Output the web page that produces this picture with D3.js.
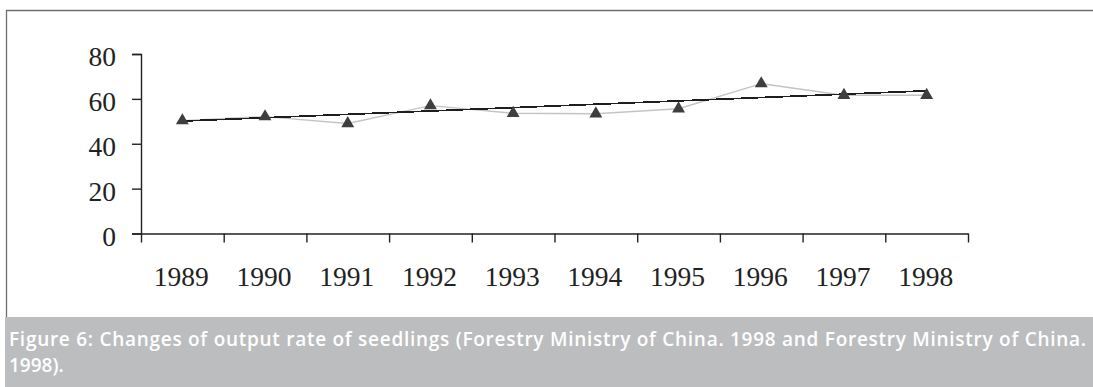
<!DOCTYPE html>
<html>
<head>
<meta charset="utf-8">
<script src="https://cdn.jsdelivr.net/npm/d3@7"></script>
<style>
  html, body { margin: 0; padding: 0; background: #fff; }
  svg { display: block; }
</style>
</head>
<body>
<script>
// Output rate of seedlings by year
const years = ["1989", "1990", "1991", "1992", "1993", "1994", "1995", "1996", "1997", "1998"];
const outputRate = [50.3, 52.1, 49.0, 57.0, 53.6, 53.4, 55.6, 66.8, 61.6, 61.6];
// linear trend, value at the first and last year
const trendYears = ["1989", "1998"];
const trendValues = [50.1, 63.6];
const yTicks = [0, 20, 40, 60, 80];
const captionLines = [
  "Figure 6: Changes of output rate of seedlings (Forestry Ministry of China. 1998 and Forestry Ministry of China.",
  "1998)."
];

const W = 1093, H = 387;
const svg = d3.select("body").append("svg").attr("width", W).attr("height", H);

// panel frame (top and left rules)
svg.append("path")
  .attr("d", "M6.5,317 V10.5 H1093")
  .attr("fill", "none").attr("stroke", "#6e6e6e").attr("stroke-width", 1.3);

// caption band
svg.append("rect").attr("x", 5).attr("y", 317).attr("width", W - 5).attr("height", 70)
  .attr("fill", "#bcbdbf");
const cap = svg.append("g")
  .attr("font-family", "'Open Sans', Lato, sans-serif")
  .attr("font-weight", 600).attr("font-size", 19).attr("fill", "#fff");
cap.append("text").attr("x", 9).attr("y", 346).attr("textLength", 1077)
  .attr("lengthAdjust", "spacing").text(captionLines[0]);
cap.append("text").attr("x", 9).attr("y", 372).text(captionLines[1]);

// scales
const x = d3.scaleBand().domain(years).range([141, 968]).padding(0);
const y = d3.scaleLinear().domain([0, 80]).range([233.5, 54]);
const edge = d3.scaleLinear().domain([0, years.length]).range([141, 968]);

const axisColor = "#222";
const font = "'Liberation Serif', 'Times New Roman', serif";

// y axis
const gy = svg.append("g").attr("transform", "translate(141,0)")
  .call(d3.axisLeft(y).tickValues(yTicks).tickSize(9).tickPadding(16).tickFormat(d3.format("d")));
gy.select(".domain").attr("stroke", axisColor).attr("stroke-width", 1.4);
gy.selectAll(".tick line").attr("stroke", axisColor).attr("stroke-width", 1.4);
gy.selectAll(".tick text").attr("font-family", font).attr("font-size", 27.5)
  .attr("fill", "#222").attr("dy", "0.42em");

// x axis: tick marks on category edges, labels at category centres
const gx = svg.append("g").attr("transform", `translate(0,${y(0)})`)
  .call(d3.axisBottom(edge).ticks(years.length).tickSize(9).tickSizeOuter(0).tickFormat(""));
gx.select(".domain").attr("stroke", axisColor).attr("stroke-width", 1.4);
gx.selectAll(".tick line").attr("stroke", axisColor).attr("stroke-width", 1.4);

const gxl = svg.append("g").attr("transform", `translate(0,${y(0)})`)
  .call(d3.axisBottom(x).tickSize(0).tickPadding(33));
gxl.select(".domain").remove();
gxl.selectAll(".tick text").attr("font-family", font).attr("font-size", 27.5)
  .attr("fill", "#222").attr("dy", "0.71em").attr("dx", -1);

const cx = d => x(d) + x.bandwidth() / 2;

// series line
svg.append("path")
  .datum(outputRate)
  .attr("fill", "none").attr("stroke", "#c4c4c4").attr("stroke-width", 1.4)
  .attr("d", d3.line().x((d, i) => cx(years[i])).y(d => y(d)));

// trend line
svg.append("path")
  .datum(trendValues)
  .attr("fill", "none").attr("stroke", "#1e1e1e").attr("stroke-width", 1.7)
  .attr("shape-rendering", "crispEdges")
  .attr("d", d3.line().x((d, i) => cx(trendYears[i])).y(d => y(d)));

// triangle markers
svg.append("g").selectAll("path")
  .data(outputRate)
  .join("path")
  .attr("transform", (d, i) => `translate(${cx(years[i])},${y(d)})`)
  .attr("d", d3.symbol().type(d3.symbolTriangle).size(72))
  .attr("fill", "#3e3e3e");
</script>
</body>
</html>
